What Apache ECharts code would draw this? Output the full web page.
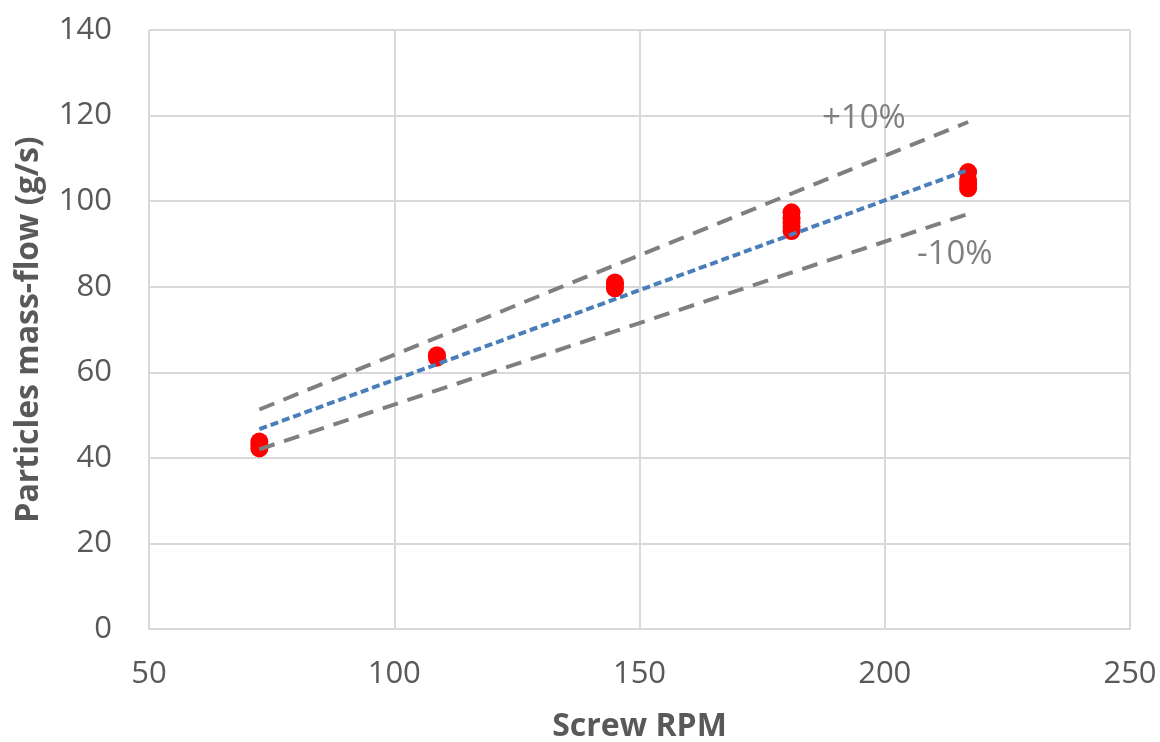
<!DOCTYPE html>
<html>
<head>
<meta charset="utf-8">
<script src="https://cdn.jsdelivr.net/npm/echarts@6/dist/echarts.min.js"></script>
<style>
  html, body { margin: 0; padding: 0; background: #fff; }
  #main { width: 1160px; height: 742px; }
</style>
</head>
<body>
<div id="main"></div>
<script>
// measured points (rpm, g/s)
var rpm72 = [42.2, 43.0, 43.8];
var rpm109 = [63.4, 64.0];
var rpm145 = [79.6, 80.4, 81.0];
var rpm181 = [93.0, 94.0, 95.0, 96.0, 97.4];
var rpm217 = [103.0, 104.0, 105.0, 106.8];
var rpmValues = [72.5, 108.7, 145, 181, 217];

// trend line and +/-10% bands (end points)
var lineX = [72.5, 217];
var trendY = [46.7, 107.3];
var plusY = [51.3, 118.5];
var minusY = [42.0, 97.0];

var groups = [rpm72, rpm109, rpm145, rpm181, rpm217];
var points = [];
groups.forEach(function (g, i) {
    g.forEach(function (v) { points.push([rpmValues[i], v]); });
});

function pairs(xs, ys) {
    return xs.map(function (x, i) { return [x, ys[i]]; });
}

var myChart = echarts.init(document.getElementById('main'));

var axisText = { color: '#595959', fontSize: 31, fontFamily: 'Open Sans' };
var titleText = { color: '#595959', fontSize: 32, fontWeight: 'bold', fontFamily: 'Open Sans' };

var option = {
    animation: false,
    grid: { left: 149, right: 30, top: 30, bottom: 113, outerBoundsMode: 'none' },
    xAxis: {
        type: 'value', min: 50, max: 250, interval: 50,
        name: 'Screw RPM', nameLocation: 'middle', nameGap: 82,
        nameTextStyle: titleText,
        axisLine: { show: true, lineStyle: { color: '#d9d9d9', width: 2 } },
        axisTick: { show: false },
        axisLabel: Object.assign({ margin: 30 }, axisText),
        splitLine: { show: true, lineStyle: { color: '#d9d9d9', width: 2 } }
    },
    yAxis: {
        type: 'value', min: 0, max: 140, interval: 20,
        name: 'Particles mass-flow (g/s)', nameLocation: 'middle', nameGap: 104,
        nameTextStyle: titleText,
        axisLine: { show: false },
        axisTick: { show: false },
        axisLabel: Object.assign({ margin: 37 }, axisText),
        splitLine: { show: true, lineStyle: { color: '#d9d9d9', width: 2 } }
    },
    series: [{
        type: 'scatter',
        data: points,
        symbol: 'circle',
        symbolSize: 18,
        itemStyle: { color: '#ff0000', opacity: 1 },
        z: 2
    }, {
        type: 'line',
        data: pairs(lineX, plusY),
        symbol: 'none',
        lineStyle: { color: '#7f7f7f', width: 4, type: [16, 10] },
        z: 3
    }, {
        type: 'line',
        data: pairs(lineX, minusY),
        symbol: 'none',
        lineStyle: { color: '#7f7f7f', width: 4, type: [16, 10] },
        z: 3
    }, {
        type: 'line',
        data: pairs(lineX, trendY),
        symbol: 'none',
        lineStyle: { color: '#4a7ebb', width: 4, type: [8, 4] },
        z: 4
    }],
    // band labels, on top of the grid lines
    graphic: [{
        type: 'text', left: 822, top: 102, z: 100,
        style: { text: '+10%', fill: '#7f7f7f', fontSize: 33, fontFamily: 'Open Sans' }
    }, {
        type: 'text', left: 917, top: 238, z: 100,
        style: { text: '-10%', fill: '#7f7f7f', fontSize: 33, fontFamily: 'Open Sans' }
    }]
};

myChart.setOption(option);
</script>
</body>
</html>
